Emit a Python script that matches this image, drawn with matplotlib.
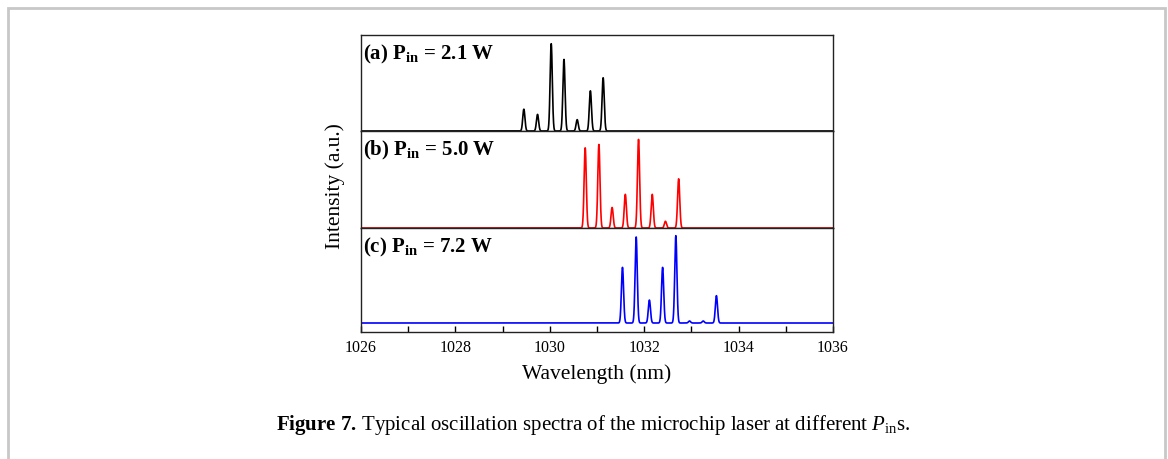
import numpy as np
import matplotlib
matplotlib.use("Agg")
import matplotlib.pyplot as plt
from matplotlib.patches import Rectangle
from matplotlib.ticker import MultipleLocator

plt.rcParams['font.family'] = ['Liberation Serif', 'DejaVu Serif']
plt.rcParams['mathtext.fontset'] = 'custom'
plt.rcParams['mathtext.rm'] = 'Liberation Serif'
plt.rcParams['mathtext.it'] = 'Liberation Serif:italic'
plt.rcParams['mathtext.bf'] = 'Liberation Serif:bold'

# ---- data (peak centres in nm, relative peak intensities) ----
peaks_a = [1029.45, 1029.74, 1030.03, 1030.30, 1030.58, 1030.86, 1031.13]
heights_a = [0.25, 0.19, 1.00, 0.82, 0.13, 0.46, 0.61]

peaks_b = [1030.75, 1031.04, 1031.32, 1031.60, 1031.88, 1032.17, 1032.45, 1032.73]
heights_b = [0.905, 0.943, 0.232, 0.380, 1.00, 0.380, 0.076, 0.555]

peaks_c = [1031.54, 1031.83, 1032.11, 1032.39, 1032.67, 1032.96, 1033.25, 1033.53]
heights_c = [0.637, 0.985, 0.263, 0.637, 1.00, 0.023, 0.023, 0.313]

labels = ['(a) P$_{\\mathbf{in}}$ = 2.1 W', '(b) P$_{\\mathbf{in}}$ = 5.0 W', '(c) P$_{\\mathbf{in}}$ = 7.2 W']
colors = ['black', '#ff0000', '#0000ff']
xticks = [1026, 1028, 1030, 1032, 1034, 1036]

wl = np.linspace(1026, 1036, 8001)
sigma = 0.023


def spectrum(centres, heights):
    y = np.zeros_like(wl)
    for c, h in zip(centres, heights):
        y += h * np.exp(-0.5 * ((wl - c) / sigma) ** 2)
    return y


W, H = 1168, 459
fig = plt.figure(figsize=(W / 100, H / 100), dpi=100)

# outer frame
fig.patches.append(Rectangle((8 / W, -0.2), (1165 - 8) / W, 1.2 - 8 / H,
                             transform=fig.transFigure, fill=False,
                             edgecolor='#c8c8c8', lw=2, clip_on=False))

x0, x1 = 361 / W, 833 / W
bounds = [(35, 131), (131, 228), (228, 332)]
ylims = [(0, 1.10), (0, 1.095), (-0.103, 1.088)]
data = [(peaks_a, heights_a), (peaks_b, heights_b), (peaks_c, heights_c)]

axes = []
for i, ((top, bot), yl, (pk, hh)) in enumerate(zip(bounds, ylims, data)):
    ax = fig.add_axes([x0, 1 - bot / H, x1 - x0, (bot - top) / H])
    ax.plot(wl, spectrum(pk, hh), color=colors[i], lw=1.2)
    ax.set_xlim(1026, 1036)
    ax.set_ylim(*yl)
    ax.set_yticks([])
    for s in ax.spines.values():
        s.set_linewidth(1.0)
        s.set_color('#222222')
    ax.text(0.005, 0.92, labels[i], transform=ax.transAxes, ha='left', va='top',
            fontsize=15, fontweight='bold')
    if i < 2:
        ax.set_xticks([])
    else:
        ax.set_xticks(xticks)
        ax.xaxis.set_minor_locator(MultipleLocator(1))
        ax.tick_params(axis='x', which='major', direction='in', length=4, width=1,
                       labelsize=11.5, pad=6, top=False)
        ax.tick_params(axis='x', which='minor', direction='in', length=4, width=1, top=False)
        ax.set_xlabel('Wavelength (nm)', fontsize=15.5, labelpad=6)
    axes.append(ax)

fig.text(335 / W, (1 - 186 / H), 'Intensity (a.u.)', rotation=90, ha='center', va='center',
         fontsize=15.5)

fig.text(593 / W, 1 - 425 / H,
         r'$\mathbf{Figure\ 7.}\,$Typical oscillation spectra of the microchip laser at different $P_{\mathrm{in}}$s.',
         ha='center', va='center', fontsize=15)

fig.savefig('out.png', dpi=100)
